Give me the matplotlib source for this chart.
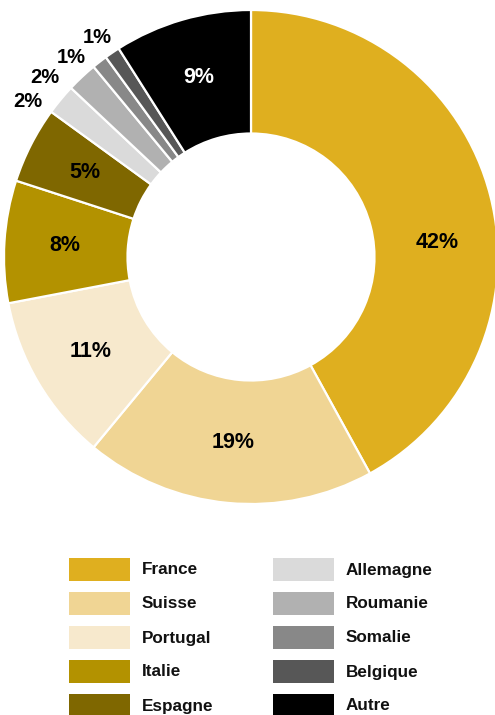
import numpy as np
import matplotlib
matplotlib.use("Agg")
import matplotlib.pyplot as plt
from matplotlib.patches import Rectangle

plt.rcParams['font.family'] = ['Liberation Sans', 'DejaVu Sans']

# Share by country of origin (percent)
countries = ['France', 'Suisse', 'Portugal', 'Italie', 'Espagne',
             'Allemagne', 'Roumanie', 'Somalie', 'Belgique', 'Autre']
shares = [42, 19, 11, 8, 5, 2, 2, 1, 1, 9]
colors = ['#DFAF1F', '#F0D594', '#F7E9CD', '#B39200', '#7F6700',
          '#DADADA', '#B1B1B1', '#888888', '#575757', '#000000']
label_colors = ['black'] * 9 + ['white']

# small slices get their label outside the ring: (angle nudge in degrees, radius)
outside = {5: (4.8, 1.10), 6: (5.8, 1.105), 7: (4.2, 1.085), 8: (0.8, 1.085)}
# the big France label sits a little lower than its slice middle
inside_nudge = {0: -9.8}

W, H = 495, 715
fig = plt.figure(figsize=(W / 100, H / 100), dpi=100)

# donut
cx, cy, r = 251, 257, 247
ax = fig.add_axes([(cx - r) / W, 1 - (cy + r) / H, 2 * r / W, 2 * r / H])
wedges, _ = ax.pie(shares, colors=colors, startangle=90, counterclock=False,
                   radius=1.0,
                   wedgeprops=dict(width=0.5, edgecolor='white', linewidth=1.6))
ax.set_xlim(-1, 1)
ax.set_ylim(-1, 1)
ax.set_aspect('equal')
ax.axis('off')

for i, w in enumerate(wedges):
    mid = (w.theta1 + w.theta2) / 2
    txt = f'{shares[i]}%'
    if i in outside:
        da, rr = outside[i]
        a = np.deg2rad(mid + da)
        ax.text(rr * np.cos(a), rr * np.sin(a), txt, ha='center', va='center',
                fontsize=14.5, fontweight='bold', color='black')
    else:
        a = np.deg2rad(mid + inside_nudge.get(i, 0))
        ax.text(0.755 * np.cos(a), 0.755 * np.sin(a), txt, ha='center', va='center',
                fontsize=15.5, fontweight='bold', color=label_colors[i])

# legend, two columns of five
lax = fig.add_axes([0, 0, 1, 1])
lax.set_xlim(0, W)
lax.set_ylim(H, 0)
lax.axis('off')
for i, (name, col) in enumerate(zip(countries, colors)):
    c, row = divmod(i, 5)
    x0 = 69 + c * 204
    y0 = 558 + row * 34
    lax.add_patch(Rectangle((x0, y0), 61, 23, facecolor=col, edgecolor='none'))
    lax.text(x0 + 73, y0 + 12, name, ha='left', va='center',
             fontsize=12.3, fontweight='bold', color='#111111')

fig.savefig('out.png', dpi=100)
